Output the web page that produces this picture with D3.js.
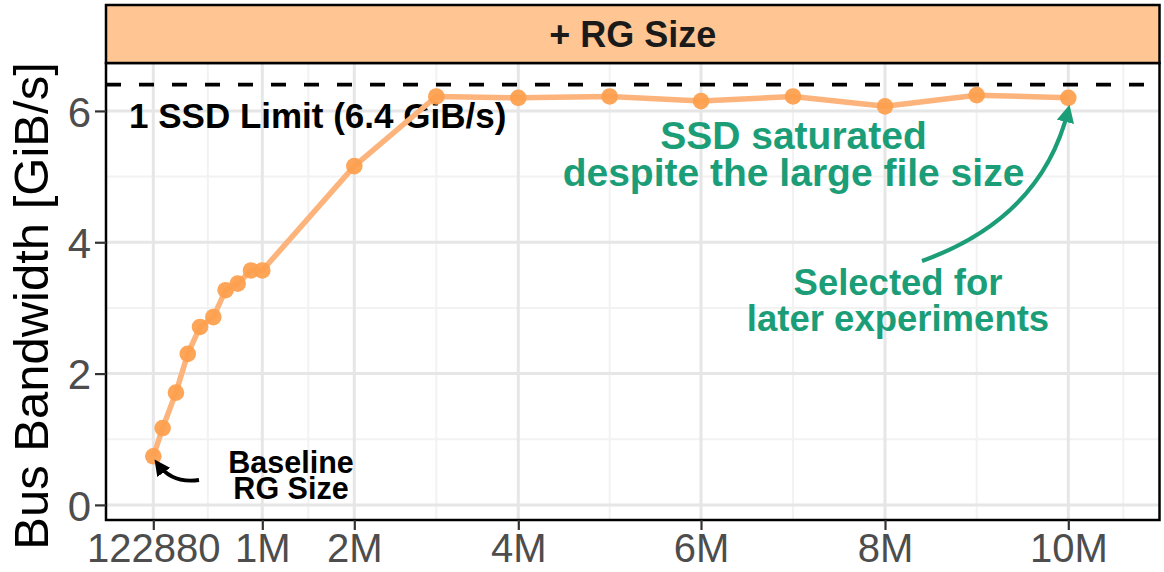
<!DOCTYPE html>
<html>
<head>
<meta charset="utf-8">
<script src="https://cdn.jsdelivr.net/npm/d3@7"></script>
<style>
  body { margin: 0; background: #fff; }
  text { font-family: "Liberation Sans", Arial, Helvetica, sans-serif; }
</style>
</head>
<body>
<script>
'use strict';

// row group sizes (rows) and measured bus bandwidth (GiB/s)
const rgSizes = [122880, 198000, 305000, 400000, 499000, 606000, 705000, 802000, 909000, 1000000,
  2000000, 3000000, 4000000, 5000000, 6000000, 7000000, 8000000, 9000000, 10000000];
const bandwidth = [0.74, 1.17, 1.71, 2.30, 2.71, 2.86, 3.27, 3.37, 3.57, 3.57,
  5.16, 6.22, 6.20, 6.22, 6.15, 6.22, 6.07, 6.24, 6.20];

const xTicks = [122880, 1000000, 2000000, 4000000, 6000000, 8000000, 10000000];
const xTickLabels = ["122880", "1M", "2M", "4M", "6M", "8M", "10M"];
const yTicks = [0, 2, 4, 6];
const yMinor = [1, 3, 5];
const ssdLimit = 6.4;
const facetLabel = "+ RG Size";

(function () {
  const W = 1164, H = 572;
  const panel = { left: 106, right: 1159.5, top: 63, bottom: 520 };
  const strip = { top: 5, bottom: 63 };
  const green = '#1B9E77';

  const svg = d3.select('body').append('svg')
    .attr('width', W)
    .attr('height', H);

  // x axis is not evenly spaced, so use a piecewise scale through the break values
  const xScale = d3.scaleLinear()
    .domain(xTicks)
    .range([153.3, 262.3, 354.3, 518.3, 701, 885, 1068.3]);

  const yScale = d3.scaleLinear()
    .domain([-0.23, 6.73])
    .range([panel.bottom, panel.top]);

  // minor x breaks sit halfway between major ones
  let xMinor = d3.pairs(xTicks).map(p => xScale.invert((xScale(p[0]) + xScale(p[1])) / 2));
  xMinor.push(10600000);

  const grid = svg.append('g');
  grid.selectAll('.ymin').data(yMinor).enter().append('line')
    .attr('x1', panel.left).attr('x2', panel.right)
    .attr('y1', d => yScale(d)).attr('y2', d => yScale(d))
    .attr('stroke', '#F2F2F2').attr('stroke-width', 2);
  grid.selectAll('.xmin').data(xMinor).enter().append('line')
    .attr('y1', panel.top).attr('y2', panel.bottom)
    .attr('x1', d => xScale(d)).attr('x2', d => xScale(d))
    .attr('stroke', '#F2F2F2').attr('stroke-width', 2);
  grid.selectAll('.ymaj').data(yTicks).enter().append('line')
    .attr('x1', panel.left).attr('x2', panel.right)
    .attr('y1', d => yScale(d)).attr('y2', d => yScale(d))
    .attr('stroke', '#E6E6E6').attr('stroke-width', 3);
  grid.selectAll('.xmaj').data(xTicks).enter().append('line')
    .attr('y1', panel.top).attr('y2', panel.bottom)
    .attr('x1', d => xScale(d)).attr('x2', d => xScale(d))
    .attr('stroke', '#E6E6E6').attr('stroke-width', 3);

  // SSD limit
  svg.append('line')
    .attr('x1', panel.left).attr('x2', panel.right)
    .attr('y1', yScale(ssdLimit)).attr('y2', yScale(ssdLimit))
    .attr('stroke', '#000').attr('stroke-width', 3.8)
    .attr('stroke-dasharray', '15,18');

  svg.append('text')
    .attr('x', 129).attr('y', 128)
    .style('font-size', '35px').style('font-weight', 'bold')
    .text('1 SSD Limit (6.4 GiB/s)');

  // line + points
  const pts = rgSizes.map((d, i) => ({ x: d, y: bandwidth[i] }));
  const line = d3.line().x(d => xScale(d.x)).y(d => yScale(d.y));
  svg.append('path')
    .datum(pts)
    .attr('d', line)
    .attr('fill', 'none')
    .attr('stroke', '#FDB47C')
    .attr('stroke-width', 5.5)
    .attr('stroke-linejoin', 'round');
  svg.selectAll('.dot').data(pts).enter().append('circle')
    .attr('cx', d => xScale(d.x))
    .attr('cy', d => yScale(d.y))
    .attr('r', 8.3)
    .attr('fill', '#FDA04F')
    .attr('opacity', 0.95);

  // arrowheads
  const defs = svg.append('defs');
  [['ahBlack', '#000'], ['ahGreen', green]].forEach(m => {
    defs.append('marker')
      .attr('id', m[0])
      .attr('viewBox', '0 0 10 10')
      .attr('refX', 7).attr('refY', 5)
      .attr('markerWidth', 4.2).attr('markerHeight', 4.2)
      .attr('markerUnits', 'strokeWidth')
      .attr('orient', 'auto')
      .append('path')
      .attr('d', 'M0,0 L10,5 L0,10 Z')
      .attr('fill', m[1]);
  });

  // multi-line label as one text element
  function label(lines, x, y, lineH, size, color) {
    const t = svg.append('text')
      .attr('x', x).attr('y', y)
      .attr('text-anchor', 'middle')
      .style('font-size', size + 'px').style('font-weight', 'bold')
      .attr('fill', color);
    lines.forEach((s, i) => {
      t.append('tspan')
        .attr('x', x)
        .attr('dy', i === 0 ? 0 : lineH)
        .text(s);
    });
  }

  // baseline annotation
  const bx = xScale(rgSizes[0]), by = yScale(bandwidth[0]);
  svg.append('path')
    .attr('d', `M199,480 Q172,484 ${bx + 4},${by + 7}`)
    .attr('fill', 'none').attr('stroke', '#000').attr('stroke-width', 3.8)
    .attr('marker-end', 'url(#ahBlack)');
  label(['Baseline', 'RG Size'], 291, 473, 25.5, 30.5, '#000');

  // saturation annotation
  label(['SSD saturated', 'despite the large file size'], 793.5, 149, 37, 39, green);
  label(['Selected for', 'later experiments'], 898, 295, 36, 36.5, green);

  const sx = xScale(rgSizes[rgSizes.length - 1]), sy = yScale(bandwidth[bandwidth.length - 1]);
  svg.append('path')
    .attr('d', `M922,261 Q1042,218 ${sx},${sy + 12}`)
    .attr('fill', 'none').attr('stroke', green).attr('stroke-width', 4.2)
    .attr('marker-end', 'url(#ahGreen)');

  // panel border
  svg.append('rect')
    .attr('x', panel.left).attr('y', panel.top)
    .attr('width', panel.right - panel.left)
    .attr('height', panel.bottom - panel.top)
    .attr('fill', 'none').attr('stroke', '#000').attr('stroke-width', 2.5);

  // facet strip
  svg.append('rect')
    .attr('x', panel.left).attr('y', strip.top)
    .attr('width', panel.right - panel.left)
    .attr('height', strip.bottom - strip.top)
    .attr('fill', '#FFC592').attr('stroke', '#000').attr('stroke-width', 2.5);
  svg.append('text')
    .attr('x', (panel.left + panel.right) / 2).attr('y', 47)
    .attr('text-anchor', 'middle')
    .style('font-size', '36px').style('font-weight', 'bold')
    .attr('fill', '#1A1A1A')
    .text(facetLabel);

  // axes
  const xAxis = d3.axisBottom(xScale)
    .tickValues(xTicks)
    .tickFormat((d, i) => xTickLabels[i])
    .tickSize(10).tickPadding(6);
  const gx = svg.append('g')
    .attr('transform', `translate(0,${panel.bottom})`)
    .call(xAxis);
  gx.select('.domain').remove();
  gx.selectAll('line').attr('stroke', '#333').attr('stroke-width', 2.2);
  gx.selectAll('text').attr('fill', '#4D4D4D').style('font-size', '40px')
    .attr('dy', null).attr('y', 42);

  const yAxis = d3.axisLeft(yScale)
    .tickValues(yTicks)
    .tickFormat(d3.format('d'))
    .tickSize(11).tickPadding(4);
  const gy = svg.append('g')
    .attr('transform', `translate(${panel.left},0)`)
    .call(yAxis);
  gy.select('.domain').remove();
  gy.selectAll('line').attr('stroke', '#333').attr('stroke-width', 2.2);
  gy.selectAll('text').attr('fill', '#4D4D4D').style('font-size', '42px')
    .attr('dy', '0.36em');

  svg.append('text')
    .attr('transform', 'translate(48, 306)rotate(-90)')
    .attr('text-anchor', 'middle')
    .style('font-size', '49px')
    .text('Bus Bandwidth [GiB/s]');
})();
</script>
</body>
</html>
